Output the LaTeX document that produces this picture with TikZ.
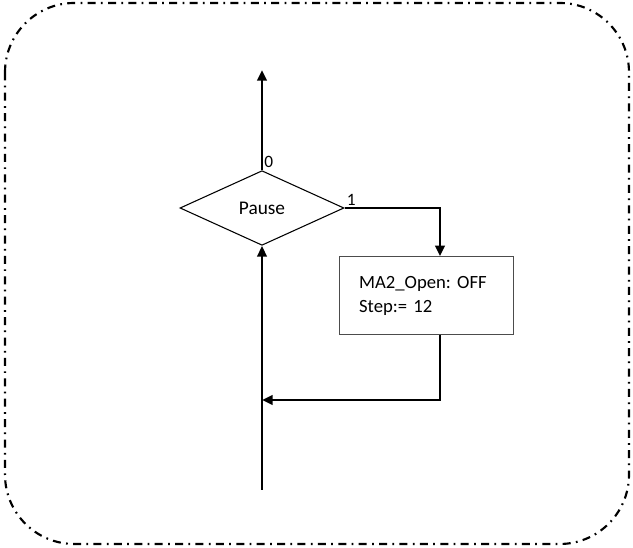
\documentclass[tikz,border=0pt]{standalone}
\usepackage{fontspec}
\setmainfont{Carlito}
\usetikzlibrary{arrows.meta,calc,shapes.geometric}

\begin{document}
\frenchspacing
\begin{tikzpicture}[x=0.75pt,y=-0.75pt,>={Triangle[length=8pt,width=7pt]}]
			\tikzstyle{flow}=[line width=2pt]
			\tikzstyle{decision}=[draw,line width=0.8pt,diamond,inner sep=0pt,minimum width=123pt,minimum height=56pt,font=\fontsize{14.5}{17}\selectfont]
			\tikzstyle{action}=[draw=black!70,line width=0.8pt,rectangle,minimum width=131pt,minimum height=58pt,inner xsep=15pt,text width=101pt,align=left,font=\fontsize{14}{18}\selectfont]
			\tikzstyle{branch}=[inner sep=1.5pt,font=\fontsize{13}{15}\selectfont]
			\tikzstyle{border}=[line width=1.6pt,dash pattern=on 6pt off 4pt on 1.3pt off 4pt,rounded corners=52pt]

			\useasboundingbox (0,0) rectangle (633,548);
			\draw [border] (5,3) rectangle (629,544);

			\node (pause) [decision] at (262,208) {Pause};
			\node (act) [action] at (426.5,295.5) {MA2\_Open: OFF\\Step:= 12};

			\coordinate (exit) at (262,70);
			\coordinate (entry) at (262,490);
			\coordinate (bend) at (440,208);
			\coordinate (join) at (262,400);

			\draw [flow,->] (pause.north) -- (exit);
			\node [branch,anchor=south west] at (pause.north) {0};

			\draw [flow,->] (pause.east) -- (bend) -- (bend |- act.north);
			\node [branch,anchor=south west] at (pause.east) {1};

			\draw [flow,->] (bend |- act.south) -- (bend |- join) -- (join);
			\draw [flow,->] (entry) -- (pause.south);
		\end{tikzpicture}
\end{document}
